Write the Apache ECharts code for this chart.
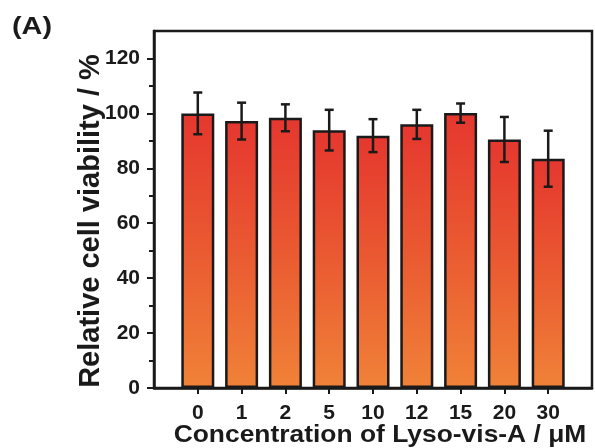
<!DOCTYPE html>
<html>
<head>
<meta charset="utf-8">
<script src="https://cdn.jsdelivr.net/npm/echarts@6/dist/echarts.min.js"></script>
<style>
  html, body { margin: 0; padding: 0; background: #fff; }
  #chart { width: 595px; height: 448px; }
</style>
</head>
<body>
<div id="chart"></div>
<script>
// Cell viability after treatment with Lyso-vis-A at different concentrations
const concentrations = ['0', '1', '2', '5', '10', '12', '15', '20', '30'];
const viability = [100.0, 97.2, 98.4, 93.9, 91.9, 96.0, 100.1, 90.5, 83.5];
const errors = [7.6, 6.7, 4.9, 7.4, 6.0, 5.3, 3.5, 8.2, 10.2];
const yMajorTicks = [0, 20, 40, 60, 80, 100, 120];
const yMinorTicks = [10, 30, 50, 70, 90, 110];

// Empty slots on each side give the gap between the axis frame and the bars
const axisCategories = [''].concat(concentrations, ['']);
const barData = [null].concat(viability, [null]);
const errData = viability.map((v, i) => [i + 1, v - errors[i], v + errors[i]]);

const ink = '#1a1a1a';
const font = '"Liberation Sans", Arial, sans-serif';

const chart = echarts.init(document.getElementById('chart'), null, { renderer: 'canvas' });

chart.setOption({
  animation: false,
  backgroundColor: '#ffffff',
  grid: {
    left: 154, top: 31, bottom: 60, right: -3,
    show: true, borderColor: ink, borderWidth: 2.5, backgroundColor: 'transparent'
  },
  xAxis: {
    type: 'category',
    data: axisCategories,
    boundaryGap: false,
    axisLine: { lineStyle: { color: ink, width: 2.5 } },
    axisTick: {
      length: 6, inside: false,
      lineStyle: { color: ink, width: 2 },
      interval: (idx, val) => val !== ''
    },
    axisLabel: {
      margin: 15, color: ink, fontFamily: font, fontWeight: 'bold', fontSize: 21,
      interval: 0
    },
    splitLine: { show: false }
  },
  yAxis: [
    {
      type: 'value', min: 0, max: 130,
      axisLine: { show: true, lineStyle: { color: ink, width: 2.5 } },
      axisTick: { show: true, length: 7, lineStyle: { color: ink, width: 2 }, customValues: yMajorTicks },
      axisLabel: { margin: 14, color: ink, fontFamily: font, fontWeight: 'bold', fontSize: 21, customValues: yMajorTicks },
      splitLine: { show: false }
    },
    {
      type: 'value', min: 0, max: 130, position: 'left',
      axisLine: { show: false },
      axisTick: { show: true, length: 5, lineStyle: { color: ink, width: 2 }, customValues: yMinorTicks },
      axisLabel: { show: false },
      splitLine: { show: false }
    }
  ],
  series: [
    {
      type: 'bar',
      data: barData,
      barWidth: 33,
      itemStyle: {
        color: new echarts.graphic.LinearGradient(0, 0, 0, 1, [
          { offset: 0, color: '#e5372f' },
          { offset: 0.5, color: '#ea5a31' },
          { offset: 1, color: '#f08238' }
        ]),
        borderColor: ink,
        borderWidth: 2.5
      },
      z: 2
    },
    {
      type: 'custom',
      data: errData,
      z: 3,
      renderItem: function (params, api) {
        const x = api.value(0);
        const lo = api.coord([x, api.value(1)]);
        const hi = api.coord([x, api.value(2)]);
        const cap = 4.5;
        const style = { stroke: ink, lineWidth: 2.5 };
        return {
          type: 'group',
          children: [
            { type: 'line', shape: { x1: lo[0], y1: lo[1], x2: hi[0], y2: hi[1] }, style: style },
            { type: 'line', shape: { x1: hi[0] - cap, y1: hi[1], x2: hi[0] + cap, y2: hi[1] }, style: style },
            { type: 'line', shape: { x1: lo[0] - cap, y1: lo[1], x2: lo[0] + cap, y2: lo[1] }, style: style }
          ]
        };
      }
    }
  ],
  graphic: [
    {
      type: 'text', x: 12, y: 15, scaleX: 1.2,
      style: { text: '(A)', fill: ink, font: 'bold 24px ' + font }
    },
    {
      type: 'text', x: 91, y: 221, rotation: Math.PI / 2,
      style: {
        text: 'Relative cell viability / %', fill: ink, font: 'bold 29px ' + font,
        align: 'center', verticalAlign: 'middle'
      }
    },
    {
      type: 'text', x: 380, y: 435, scaleX: 1.1,
      style: {
        text: 'Concentration of Lyso-vis-A / μM', fill: ink, font: 'bold 24px ' + font,
        align: 'center', verticalAlign: 'middle'
      }
    }
  ]
});
</script>
</body>
</html>
